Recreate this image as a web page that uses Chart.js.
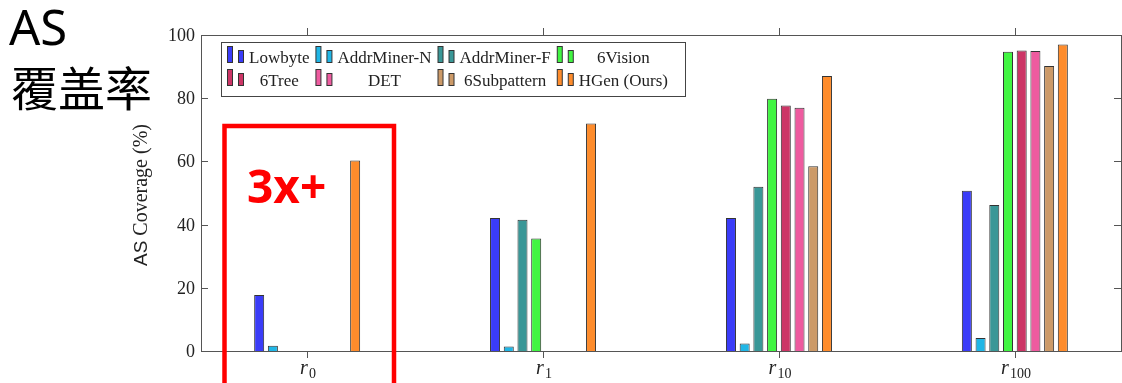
<!DOCTYPE html>
<html>
<head>
<meta charset="utf-8">
<script src="https://cdn.jsdelivr.net/npm/chart.js@4.4.0/dist/chart.umd.min.js"></script>
<style>
  html, body { margin: 0; padding: 0; background: #fff; overflow: hidden; }
  #wrap { position: relative; width: 1122px; height: 383px; }
</style>
</head>
<body>
<div id="wrap"><canvas id="coverage-chart" width="1122" height="383"></canvas></div>
<script>
// categories are r_0, r_1, r_10, r_100 (subscript part only)
const categories = ["0", "1", "10", "100"];
const yTicks = [0, 20, 40, 60, 80, 100];
const seriesNames = ["Lowbyte", "AddrMiner-N", "AddrMiner-F", "6Vision", "6Tree", "DET", "6Subpattern", "HGen (Ours)"];

const lowbyte = [17.7, 42.1, 42.1, 50.7];
const addrMinerN = [1.7, 1.4, 2.4, 4.1];
const addrMinerF = [null, 41.5, 52.0, 46.2];
const sixVision = [null, 35.6, 79.8, 94.7];
const sixTree = [null, null, 77.7, 95.1];
const det = [null, null, 77.0, 94.9];
const sixSubpattern = [null, null, 58.5, 90.2];
const hgen = [60.3, 72.0, 87.0, 97.0];

const seriesValues = [lowbyte, addrMinerN, addrMinerF, sixVision, sixTree, det, sixSubpattern, hgen];
const seriesColors = ["#3a3cf8", "#20b6e6", "#3a9797", "#41f542", "#cc3566", "#ee5b9f", "#cc9a68", "#fe8c2c"];

document.addEventListener("DOMContentLoaded", () => {
  const ctx = document.getElementById("coverage-chart").getContext("2d");
  const serif = "'Liberation Serif', 'DejaVu Serif', serif";
  const sans = "'Liberation Sans', 'DejaVu Sans', sans-serif";

  // frame, ticks, labels, legend and the annotations
  const decorations = {
    id: "decorations",
    afterDraw(chart) {
      const c = chart.ctx;
      const a = chart.chartArea;
      const x = chart.scales.x;
      const y = chart.scales.y;
      c.save();

      // axis frame
      c.strokeStyle = "#555";
      c.lineWidth = 1;
      c.strokeRect(a.left + 0.5, a.top + 0.5, a.right - a.left, a.bottom - a.top);

      // y ticks (inward, both sides) and labels
      c.fillStyle = "#222";
      c.font = "18px " + serif;
      c.textAlign = "right";
      c.textBaseline = "middle";
      yTicks.forEach((t) => {
        const py = Math.round(y.getPixelForValue(t)) + 0.5;
        c.beginPath();
        c.moveTo(a.left, py); c.lineTo(a.left + 7, py);
        c.moveTo(a.right, py); c.lineTo(a.right - 7, py);
        c.stroke();
        c.fillText(String(t), a.left - 6, py + 1);
      });

      // x ticks (outward, top and bottom) and r_i labels
      categories.forEach((cat, i) => {
        const px = Math.round(x.getPixelForValue(i)) + 0.5;
        c.beginPath();
        c.moveTo(px, a.bottom); c.lineTo(px, a.bottom + 7);
        c.moveTo(px, a.top); c.lineTo(px, a.top - 7);
        c.stroke();
        c.font = "italic 20px " + serif;
        const wr = c.measureText("r").width;
        c.font = "14px " + serif;
        const ws = c.measureText(cat).width;
        const start = px - (wr + ws) / 2;
        c.textAlign = "left";
        c.textBaseline = "alphabetic";
        c.font = "italic 20px " + serif;
        c.fillText("r", start, 374);
        c.font = "14px " + serif;
        c.fillText(cat, start + wr + 1, 378);
      });

      // y axis title: "AS" upright sans, rest serif
      c.save();
      c.translate(142, 195);
      c.rotate(-Math.PI / 2);
      c.textAlign = "left";
      c.textBaseline = "middle";
      c.font = "19px " + sans;
      const wAS = c.measureText("AS").width;
      c.font = "20px " + serif;
      const wRest = c.measureText(" Coverage (%)").width;
      const x0 = -(wAS + wRest) / 2;
      c.font = "19px " + sans;
      c.fillText("AS", x0, 0);
      c.font = "20px " + serif;
      c.fillText(" Coverage (%)", x0 + wAS, 0);
      c.restore();

      // legend box, 4 columns x 2 rows
      const ds = chart.data.datasets;
      c.font = "17px " + serif;
      const cols = 4;
      const rowsY = [62, 85];
      let colX = 227;
      const colPos = [];
      for (let col = 0; col < cols; col++) {
        let w = 0;
        for (let r = 0; r < 2; r++) w = Math.max(w, c.measureText(ds[r * cols + col].label).width);
        colPos.push({ x: colX, w });
        colX += 22 + w + 6;
      }
      c.fillStyle = "#fff";
      c.fillRect(221.5, 42.5, 464, 54);
      c.strokeStyle = "#444";
      c.strokeRect(221.5, 42.5, 464, 54);
      ds.forEach((d, k) => {
        const col = k % cols;
        const row = Math.floor(k / cols);
        const p = colPos[col];
        const by = rowsY[row];
        c.fillStyle = d.backgroundColor;
        c.strokeStyle = "#333";
        c.fillRect(p.x + 0.5, by - 16 + 0.5, 5, 16);
        c.strokeRect(p.x + 0.5, by - 16 + 0.5, 5, 16);
        c.fillRect(p.x + 11.5, by - 12 + 0.5, 5, 12);
        c.strokeRect(p.x + 11.5, by - 12 + 0.5, 5, 12);
        c.fillStyle = "#222";
        c.textAlign = "center";
        c.textBaseline = "alphabetic";
        c.fillText(d.label, p.x + 22 + p.w / 2, by + 1);
      });

      // slide annotations
      c.fillStyle = "#000";
      c.textAlign = "left";
      c.textBaseline = "alphabetic";
      c.font = "49px 'Noto Sans', 'Open Sans', sans-serif";
      c.fillText("AS", 9, 45);
      c.font = "47px 'Noto Sans CJK SC', sans-serif";
      c.fillText("覆盖率", 11, 106);

      c.strokeStyle = "#ff0000";
      c.lineWidth = 4.5;
      c.beginPath();
      c.moveTo(224.5, 400);
      c.lineTo(224.5, 126);
      c.lineTo(394, 126);
      c.lineTo(394, 400);
      c.stroke();

      c.fillStyle = "#ff0000";
      c.font = "bold 46px 'Noto Sans', 'Noto Sans CJK SC', sans-serif";
      c.fillText("3x+", 247, 203);

      c.restore();
    },
  };

  new Chart(ctx, {
    type: "bar",
    data: {
      datasets: seriesNames.map((name, k) => ({
        label: name,
        data: seriesValues[k].map((v, i) => ({ x: i, y: v })).filter((p) => p.y !== null),
        backgroundColor: seriesColors[k],
        borderColor: "#333",
        borderWidth: 1,
        borderSkipped: "start",
        categoryPercentage: 0.465,
        barPercentage: 0.73,
      })),
    },
    options: {
      responsive: false,
      animation: false,
      layout: { padding: { left: 201, top: 35, right: 1, bottom: 32 } },
      plugins: { legend: { display: false }, tooltip: { enabled: false } },
      scales: {
        x: {
          type: "linear",
          min: -0.45,
          max: 3.45,
          offset: false,
          display: false,
          afterBuildTicks: (scale) => {
            scale.ticks = categories.map((c, i) => ({ value: i }));
          },
        },
        y: { min: 0, max: 100, display: false },
      },
    },
    plugins: [decorations],
  });
});
</script>
</body>
</html>
